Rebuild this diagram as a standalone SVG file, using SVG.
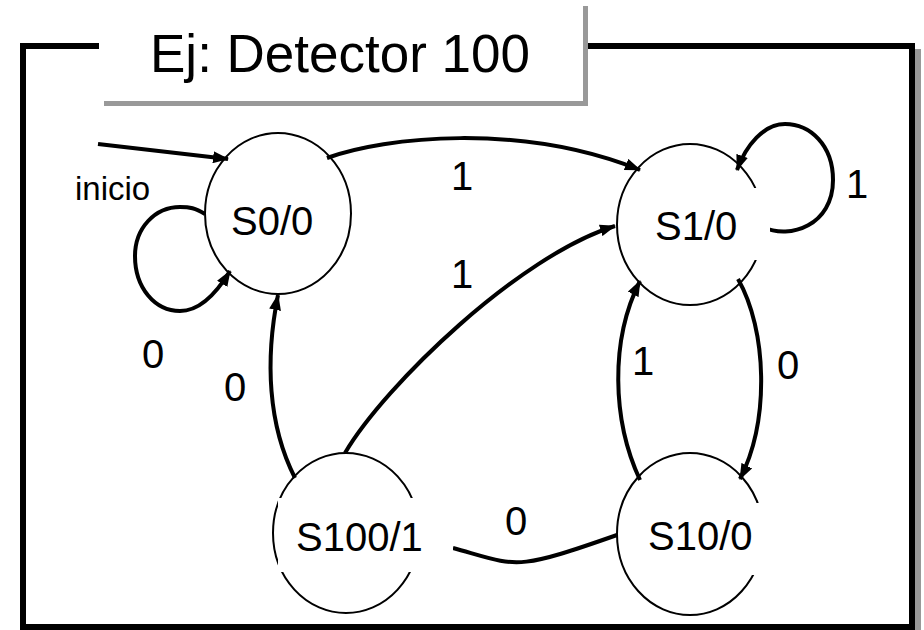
<svg xmlns="http://www.w3.org/2000/svg" width="924" height="630" viewBox="0 0 924 630">
  <defs>
    <marker id="arrow" viewBox="0 0 16 12" refX="15" refY="6" markerWidth="16" markerHeight="12" markerUnits="userSpaceOnUse" orient="auto">
      <path d="M0,0 L16,6 L0,12 Z" fill="#000"/>
    </marker>
    <style>
      .shadow { fill: #999999; }
      .frame { fill: #ffffff; stroke: #000000; stroke-width: 6; }
      .state { fill: none; stroke: #000000; stroke-width: 2; }
      .mask { fill: #ffffff; }
      .edge { fill: none; stroke: #000000; stroke-width: 4; }
      .txt { font-family: "Liberation Sans", Arial, sans-serif; fill: #000000; }
      .name { font-size: 40px; }
      .lbl { font-size: 40px; text-anchor: middle; }
    </style>
  </defs>

  <rect width="924" height="630" fill="#ffffff"/>

  <!-- outer frame with drop shadow -->
  <g id="frame">
    <rect class="shadow" x="26" y="49" width="895" height="590"/>
    <rect class="frame" x="23" y="46" width="889" height="581"/>
  </g>

  <!-- title box with drop shadow -->
  <g id="title">
    <rect class="shadow" x="104" y="6" width="484" height="100"/>
    <rect x="99" y="0" width="484" height="101" fill="#ffffff"/>
    <text class="txt" x="150" y="72" font-size="53">Ej: Detector 100</text>
  </g>

  <!-- transitions -->
  <g id="connectors">
    <path class="edge" d="M98,144 L228,159" marker-end="url(#arrow)"/>
    <path class="edge" d="M205,214 C195,208 190,207 180,207 C155,207 135,228 135,256 C135,288 155,311 180,311 C200,311 216,294 230,271" marker-end="url(#arrow)"/>
    <path class="edge" d="M327,158 C385,137 520,122 640,170" marker-end="url(#arrow)"/>
    <path class="edge" d="M763,227 C790,240 833,225 833,180 C833,145 810,124 785,124 C764,124 746,145 737,170" marker-end="url(#arrow)"/>
    <path class="edge" d="M345,453 C385,385 520,255 615,226" marker-end="url(#arrow)"/>
    <path class="edge" d="M295,478 C268,425 265,360 278,295" marker-end="url(#arrow)"/>
    <path class="edge" d="M738,279 C767,330 770,420 740,479" marker-end="url(#arrow)"/>
    <path class="edge" d="M640,480 C612,420 610,340 640,281" marker-end="url(#arrow)"/>
    <path class="edge" d="M617,535 C512,572 518,566 453,548"/>
  </g>

  <!-- transition labels -->
  <g id="labels" class="txt">
    <text x="75" y="200" font-size="33">inicio</text>
    <text class="lbl" x="462" y="190">1</text>
    <text class="lbl" x="462" y="288">1</text>
    <text class="lbl" x="153" y="368">0</text>
    <text class="lbl" x="235" y="401">0</text>
    <text class="lbl" x="857" y="198">1</text>
    <text class="lbl" x="643" y="375">1</text>
    <text class="lbl" x="788" y="379">0</text>
    <text class="lbl" x="516" y="535">0</text>
  </g>

  <!-- states -->
  <g id="S0">
    <ellipse class="state" cx="278" cy="213.5" rx="73" ry="80.5"/>
    <text class="txt name" x="231" y="235">S0/0</text>
  </g>
  <g id="S1">
    <ellipse class="state" cx="690" cy="224.5" rx="73" ry="80.5"/>
    <rect class="mask" x="645" y="188" width="125" height="72"/>
    <text class="txt name" x="655" y="240">S1/0</text>
  </g>
  <g id="S10">
    <ellipse class="state" cx="690" cy="534" rx="73" ry="81"/>
    <rect class="mask" x="640" y="503" width="130" height="72"/>
    <text class="txt name" x="648" y="550">S10/0</text>
  </g>
  <g id="S100">
    <ellipse class="state" cx="346" cy="533" rx="73" ry="80"/>
    <rect class="mask" x="278" y="498" width="175" height="74"/>
    <text class="txt name" x="296" y="551">S100/1</text>
  </g>
</svg>
